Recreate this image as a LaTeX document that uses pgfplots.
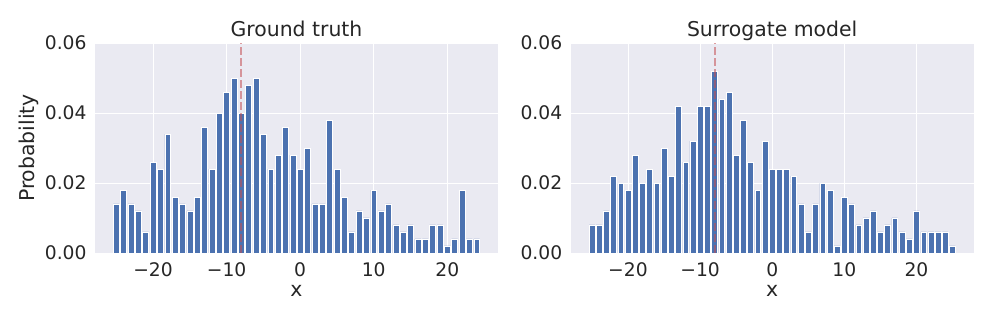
\documentclass[border=0pt]{standalone}
\usepackage{fontspec}
\setmainfont{DejaVu Sans}
\usepackage{pgfplots}
\usepackage{pgfplotstable}
\pgfplotsset{compat=1.18}
\definecolor{barc}{HTML}{4C72B0}
\definecolor{bgc}{HTML}{EAEAF2}
\definecolor{textc}{HTML}{262626}
\definecolor{redc}{HTML}{C44E52}

\pgfplotstableread{
x y
-25 0.014
-24 0.018
-23 0.014
-22 0.012
-21 0.006
-20 0.026
-19 0.024
-18 0.034
-17 0.016
-16 0.014
-15 0.012
-14 0.016
-13 0.036
-12 0.024
-11 0.040
-10 0.046
-9 0.050
-8 0.040
-7 0.048
-6 0.050
-5 0.034
-4 0.024
-3 0.028
-2 0.036
-1 0.028
0 0.024
1 0.030
2 0.014
3 0.014
4 0.038
5 0.024
6 0.016
7 0.006
8 0.012
9 0.010
10 0.018
11 0.012
12 0.014
13 0.008
14 0.006
15 0.008
16 0.004
17 0.004
18 0.008
19 0.008
20 0.002
21 0.004
22 0.018
23 0.004
24 0.004
}\truth

\pgfplotstableread{
x y
-25 0.008
-24 0.008
-23 0.012
-22 0.022
-21 0.020
-20 0.018
-19 0.028
-18 0.020
-17 0.024
-16 0.020
-15 0.030
-14 0.022
-13 0.042
-12 0.026
-11 0.032
-10 0.042
-9 0.042
-8 0.052
-7 0.044
-6 0.046
-5 0.028
-4 0.038
-3 0.026
-2 0.018
-1 0.032
0 0.024
1 0.024
2 0.024
3 0.022
4 0.014
5 0.006
6 0.014
7 0.020
8 0.018
9 0.002
10 0.016
11 0.014
12 0.008
13 0.010
14 0.012
15 0.006
16 0.008
17 0.010
18 0.006
19 0.004
20 0.012
21 0.006
22 0.006
23 0.006
24 0.006
25 0.002
}\surrogate

\pgfplotsset{
  myaxis/.style={
    scale only axis,
    width=403pt, height=210pt,
    ymin=0, ymax=0.06,
    scaled y ticks=false,
    scaled x ticks=false,
    axis background/.style={fill=bgc},
    grid=major,
    major grid style={white, line width=0.9pt},
    axis line style={draw=none},
    tick style={draw=none},
    ytick={0,0.02,0.04,0.06},
    yticklabels={0.00,0.02,0.04,0.06},
    xtick={-20,-10,0,10,20},
    xticklabels={−20,−10,0,10,20},
    ticklabel style={font=\fontsize{18.7}{22}\selectfont, text=textc},
    xticklabel style={inner sep=0pt, anchor=north, yshift=-9.5pt},
    yticklabel style={inner sep=0pt, anchor=east, xshift=-8.3pt},
  },
  mybar/.style={ybar, bar width=0.8, bar shift=0pt, fill=barc, draw=white, line width=0.5pt},
  myline/.style={redc, opacity=0.55, line width=2pt, dash pattern=on 7.5pt off 3.5pt},
}

\begin{document}
\begin{tikzpicture}
\begin{axis}[myaxis, at={(0pt,0pt)}, anchor=south west, xmin=-27.89, xmax=26.89]
\addplot[mybar] table[x=x, y=y] {\truth};
\addplot[myline] coordinates {(-8,0) (-8,0.06)};
\end{axis}
\begin{axis}[myaxis, at={(475.7pt,0pt)}, anchor=south west, xmin=-27.94, xmax=27.94]
\addplot[mybar] table[x=x, y=y] {\surrogate};
\addplot[myline] coordinates {(-8,0) (-8,0.06)};
\end{axis}
\node[anchor=base, inner sep=0pt, font=\fontsize{20.4}{24}\selectfont, text=textc] at (201.5pt,216.5pt) {Ground truth};
\node[anchor=base, inner sep=0pt, font=\fontsize{20.4}{24}\selectfont, text=textc] at (677.2pt,216.5pt) {Surrogate model};
\node[anchor=base, inner sep=0pt, font=\fontsize{20.4}{24}\selectfont, text=textc] at (201.5pt,-44pt) {x};
\node[anchor=base, inner sep=0pt, font=\fontsize{20.4}{24}\selectfont, text=textc] at (677.2pt,-44pt) {x};
\node[rotate=90, anchor=south, inner sep=0pt, font=\fontsize{20.4}{24}\selectfont, text=textc] at (-55.7pt,105pt) {Probability};
\path (-95pt,-71pt) rectangle (902pt,253pt);
\end{tikzpicture}
\end{document}
